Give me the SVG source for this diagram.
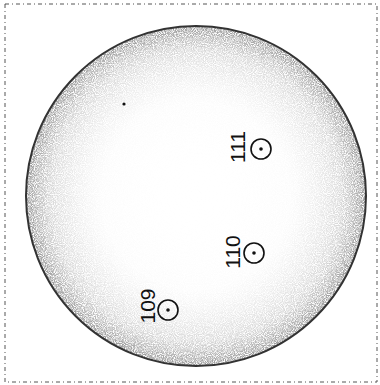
<svg xmlns="http://www.w3.org/2000/svg" width="380" height="385" viewBox="0 0 380 385">
<style>
.lbl{font-family:"Liberation Sans",Arial,sans-serif;font-size:21px;fill:#111;text-anchor:middle}
.mk{fill:none;stroke:#111;stroke-width:1.6}
.dot{fill:#111}
</style>
<defs>
<radialGradient id="rim" cx="196" cy="196" r="171" gradientUnits="userSpaceOnUse">
<stop offset="0" stop-color="#fff" stop-opacity="0"/>
<stop offset="0.55" stop-color="#ddd" stop-opacity="0.1"/>
<stop offset="0.85" stop-color="#aaa" stop-opacity="0.45"/>
<stop offset="1" stop-color="#777" stop-opacity="0.8"/>
</radialGradient>
<filter id="speckle" x="0" y="0" width="100%" height="100%">
<feTurbulence type="fractalNoise" baseFrequency="1.1" numOctaves="1" seed="7" result="noise"/>
<feColorMatrix in="noise" type="matrix" values="0 0 0 0 0  0 0 0 0 0  0 0 0 0 0  0 0 0 -3 2.1" result="dots"/>
<feComposite in="SourceGraphic" in2="dots" operator="in"/>
</filter>
</defs>
<rect x="5" y="4" width="372" height="378" fill="none" stroke="#555" stroke-width="1" stroke-dasharray="4 3 1 3"/>
<g id="disc">
<circle cx="196" cy="196" r="170" fill="url(#rim)" filter="url(#speckle)"/>
<circle cx="196" cy="196" r="170" fill="none" stroke="#333" stroke-width="2"/>
<circle cx="124" cy="104" r="1.6" class="dot"/>
</g>
<g id="n109">
<circle cx="168" cy="310" r="10" class="mk"/>
<circle cx="168" cy="310" r="1.8" class="dot"/>
<text class="lbl" transform="translate(155,306) rotate(-90)">109</text>
</g>
<g id="n110">
<circle cx="254" cy="253" r="10" class="mk"/>
<circle cx="254" cy="253" r="1.8" class="dot"/>
<text class="lbl" transform="translate(240,252) rotate(-90)">110</text>
</g>
<g id="n111">
<circle cx="261" cy="149" r="10" class="mk"/>
<circle cx="261" cy="149" r="1.8" class="dot"/>
<text class="lbl" transform="translate(245,147) rotate(-90)">111</text>
</g>
<g id="connectors"/>
</svg>
